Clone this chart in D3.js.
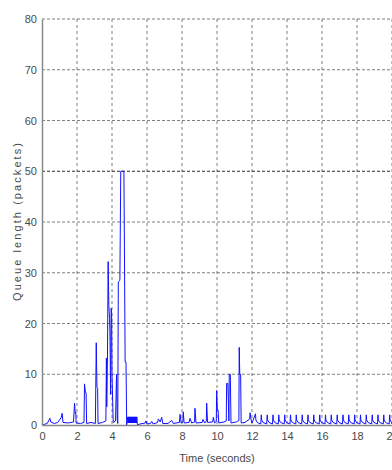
<!DOCTYPE html>
<html>
<head>
<meta charset="utf-8">
<script src="https://cdn.jsdelivr.net/npm/d3@7"></script>
<style>
  html, body { margin: 0; padding: 0; background: #fff; }
  svg { display: block; }
  text { font-family: "Liberation Sans Narrow", "Liberation Sans", Arial, sans-serif; fill: #4a4a4a; }
</style>
</head>
<body>
<svg id="chart" width="392" height="470"></svg>
<script>
// Time axis ticks and queue axis ticks
const xTicks = [0, 2, 4, 6, 8, 10, 12, 14, 16, 18, 20];
const yTicks = [0, 10, 20, 30, 40, 50, 60, 70, 80];

// Router queue trace, start-up bursts (0 - 5.5 s)
const burstTime = [
  0, 0.3, 0.45, 0.5, 0.7, 0.9, 1.1, 1.15, 1.2, 1.5, 1.8, 1.86, 1.9, 1.93, 1.95,
  2.2, 2.4, 2.43, 2.48, 2.52, 2.55, 2.8, 3.05, 3.1, 3.14, 3.18, 3.2, 3.45,
  3.65, 3.68, 3.7, 3.74, 3.78, 3.82, 3.86, 3.88, 3.9, 3.92, 3.95, 3.98, 4.0,
  4.04, 4.07, 4.2, 4.26, 4.3, 4.33, 4.36, 4.45, 4.5, 4.68, 4.7, 4.75, 4.8, 4.84,
  4.9, 4.92, 4.94, 4.96, 4.98, 5.0, 5.02, 5.04, 5.06, 5.08, 5.1, 5.12, 5.14,
  5.16, 5.18, 5.2, 5.22, 5.24, 5.26, 5.28, 5.3, 5.32, 5.34, 5.36, 5.38, 5.4,
  5.42, 5.44, 5.46
];
const burstQueue = [
  0, 0.3, 1.3, 0.6, 0.3, 0.5, 1.5, 2.3, 0.5, 0.4, 0.6, 4.3, 2.3, 2.5, 0.4,
  0.3, 0.5, 8.1, 6.5, 6.3, 0.3, 0.5, 0.3, 16.2, 7.5, 7.2, 0.3, 0.5,
  0.8, 13.2, 3.6, 13, 32.2, 23.5, 21, 18.5, 13, 6, 23, 22, 10,
  4.5, 0.5, 0.8, 10, 1, 0.3, 28.2, 28.5, 50, 50, 40, 12.4, 12.4, 0,
  1.6, 0.4, 1.6, 0.4, 1.6, 0.4, 1.6, 0.4, 1.6, 0.4, 1.6, 0.4, 1.6,
  0.4, 1.6, 0.4, 1.6, 0.4, 1.6, 0.4, 1.6, 0.4, 1.6, 0.4, 1.6, 0.4,
  1.6, 0.4, 0
];

// Recovery phase (5.5 - 12 s)
const recoveryTime = [
  5.6, 5.9, 5.94, 6.0, 6.2, 6.27, 6.35, 6.6, 6.65, 6.75, 6.84, 6.9, 7.2, 7.41, 7.5,
  7.85, 7.89, 7.95, 8.05, 8.07, 8.12, 8.4, 8.46, 8.55, 8.72, 8.74, 8.8, 9.15, 9.2,
  9.3, 9.39, 9.41, 9.46, 9.75, 9.79, 9.86, 9.96, 9.98, 10.02, 10.06, 10.1, 10.4,
  10.53, 10.55, 10.62, 10.68, 10.7, 10.76, 10.8, 11.1, 11.25, 11.27, 11.3, 11.35,
  11.38, 11.6, 11.87, 11.89, 11.95, 12.0
];
const recoveryQueue = [
  0.2, 0.4, 0.8, 0.2, 0.3, 0.7, 0.2, 0.5, 1.2, 0.6, 1.5, 0.3, 0.3, 0.9, 0.3,
  0.5, 2.1, 0.4, 0.6, 2.6, 0.4, 0.5, 1.3, 0.4, 0.6, 3.3, 0.4, 0.5, 1.1,
  0.4, 0.8, 4.3, 0.5, 0.6, 1.5, 0.4, 0.7, 6.8, 3, 3, 0.4, 0.6,
  0.8, 8.2, 8.2, 0.8, 10, 10, 0.4, 0.6, 0.9, 15.3, 10, 10,
  0.4, 0.5, 1.2, 2.4, 1, 0.4
];

// Steady state (12 - 20 s): one small tooth every third of a second
const steadyTime = [
  12.2, 12.22, 12.3, 12.5, 12.53, 12.55, 12.63, 12.84, 12.87, 12.89, 12.97, 13.17,
  13.2, 13.22, 13.3, 13.5, 13.53, 13.55, 13.63, 13.84, 13.87, 13.89, 13.97, 14.17,
  14.2, 14.22, 14.3, 14.5, 14.53, 14.55, 14.63, 14.84, 14.87, 14.89, 14.97, 15.17,
  15.2, 15.22, 15.3, 15.5, 15.53, 15.55, 15.63, 15.84, 15.87, 15.89, 15.97, 16.17,
  16.2, 16.22, 16.3, 16.5, 16.53, 16.55, 16.63, 16.84, 16.87, 16.89, 16.97, 17.17,
  17.2, 17.22, 17.3, 17.5, 17.53, 17.55, 17.63, 17.84, 17.87, 17.89, 17.97, 18.17,
  18.2, 18.22, 18.3, 18.5, 18.53, 18.55, 18.63, 18.84, 18.87, 18.89, 18.97, 19.17,
  19.2, 19.22, 19.3, 19.5, 19.53, 19.55, 19.63, 19.84, 19.87, 19.89, 19.97, 20.0
];
const steadyQueue = [
  2.2, 1.0, 0.5, 0.2, 2.0, 1.0, 0.5, 0.2, 2.0, 1.0, 0.5, 0.2,
  2.0, 1.0, 0.5, 0.2, 2.0, 1.0, 0.5, 0.2, 2.0, 1.0, 0.5, 0.2,
  2.0, 1.0, 0.5, 0.2, 2.0, 1.0, 0.5, 0.2, 2.0, 1.0, 0.5, 0.2,
  2.0, 1.0, 0.5, 0.2, 2.0, 1.0, 0.5, 0.2, 2.0, 1.0, 0.5, 0.2,
  2.0, 1.0, 0.5, 0.2, 2.0, 1.0, 0.5, 0.2, 2.0, 1.0, 0.5, 0.2,
  2.0, 1.0, 0.5, 0.2, 2.0, 1.0, 0.5, 0.2, 2.0, 1.0, 0.5, 0.2,
  2.0, 1.0, 0.5, 0.2, 2.0, 1.0, 0.5, 0.2, 2.0, 1.0, 0.5, 0.2,
  2.0, 1.0, 0.5, 0.2, 2.0, 1.0, 0.5, 0.2, 2.0, 1.0, 0.5, 0.2
];

const svg = d3.select("#chart");
const plotLeft = 42, plotRight = 392, plotTop = 19, plotBottom = 425;

const x = d3.scaleLinear().domain([0, 20]).range([plotLeft, plotRight]);
const y = d3.scaleLinear().domain([0, 80]).range([plotBottom, plotTop]);

// dashed grid
const grid = svg.append("g");
grid.selectAll("line.v").data(xTicks.slice(1)).join("line")
  .attr("x1", d => x(d)).attr("x2", d => x(d))
  .attr("y1", plotTop).attr("y2", plotBottom)
  .attr("stroke", "#555").attr("stroke-width", 1)
  .attr("stroke-dasharray", "3,3").attr("opacity", 0.75);
grid.selectAll("line.h").data(yTicks.slice(1)).join("line")
  .attr("x1", plotLeft).attr("x2", plotRight)
  .attr("y1", d => y(d)).attr("y2", d => y(d))
  .attr("stroke", d => d === 50 ? "#222" : "#555").attr("stroke-width", 1)
  .attr("stroke-dasharray", "3,2").attr("opacity", d => d === 50 ? 0.95 : 0.75);

// queue trace
const trace = [];
[[burstTime, burstQueue], [recoveryTime, recoveryQueue], [steadyTime, steadyQueue]]
  .forEach(([ts, qs]) => ts.forEach((t, i) => trace.push([t, qs[i]])));

const line = d3.line().x(d => x(d[0])).y(d => y(d[1]));
svg.append("path").datum(trace)
  .attr("d", line)
  .attr("fill", "none")
  .attr("stroke", "#1010ff")
  .attr("stroke-width", 1)
  .attr("stroke-linejoin", "miter");

// axes
const xAxis = d3.axisBottom(x).tickValues(xTicks).tickSize(0).tickPadding(7);
const yAxis = d3.axisLeft(y).tickValues(yTicks).tickSize(0).tickPadding(5);
const gx = svg.append("g").attr("transform", `translate(0,${plotBottom})`).call(xAxis);
const gy = svg.append("g").attr("transform", `translate(${plotLeft},0)`).call(yAxis);
[gx, gy].forEach(g => {
  g.select(".domain").attr("stroke", "#8a8a8a").attr("stroke-width", 1.5);
  g.selectAll("text").attr("font-size", 11).attr("fill", "#4a4a4a")
    .attr("font-family", "'Liberation Sans Narrow', 'Liberation Sans', Arial, sans-serif");
});

// axis titles
svg.append("text")
  .attr("x", (plotLeft + plotRight) / 2).attr("y", 462)
  .attr("text-anchor", "middle").attr("font-size", 11)
  .text("Time (seconds)");
svg.append("text")
  .attr("transform", `translate(21,${(plotTop + plotBottom) / 2}) rotate(-90)`)
  .attr("text-anchor", "middle").attr("font-size", 11)
  .attr("textLength", 158).attr("lengthAdjust", "spacing")
  .text("Queue length (packets)");
</script>
</body>
</html>
